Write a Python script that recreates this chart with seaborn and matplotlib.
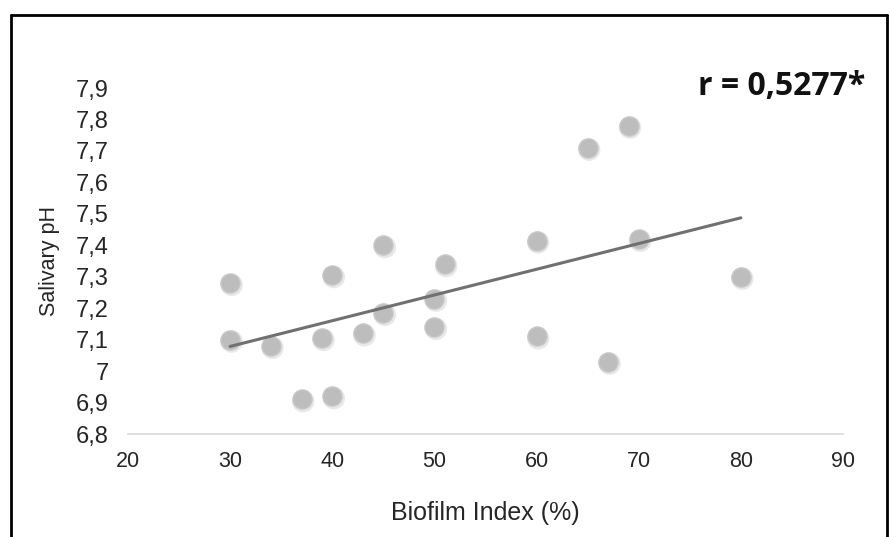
import numpy as np
import pandas as pd
import matplotlib
matplotlib.use("Agg")
import matplotlib.pyplot as plt
from matplotlib.lines import Line2D
import seaborn as sns

biofilm = [30, 30, 34, 37, 40, 40, 39, 43, 45, 45, 50, 50, 51, 60, 60, 65, 67, 69, 70, 80]
ph = [7.28, 7.10, 7.08, 6.91, 6.92, 7.305, 7.105, 7.12, 7.40, 7.185,
      7.23, 7.14, 7.34, 7.415, 7.11, 7.71, 7.03, 7.78, 7.42, 7.30]
x_ticks = [20, 30, 40, 50, 60, 70, 80, 90]
y_ticks = [6.8, 6.9, 7.0, 7.1, 7.2, 7.3, 7.4, 7.5, 7.6, 7.7, 7.8, 7.9]
y_labels = ["6,8", "6,9", "7", "7,1", "7,2", "7,3", "7,4", "7,5", "7,6", "7,7", "7,8", "7,9"]

df = pd.DataFrame({"Biofilm Index (%)": biofilm, "Salivary pH": ph})

sns.set_style("white")
plt.rcParams['font.family'] = ['Liberation Sans', 'DejaVu Sans']

fig = plt.figure(figsize=(8.9, 5.37), dpi=100)
ax = fig.add_axes([128/890, (537-434)/537, (843-128)/890, (434-88)/537])

# soft shadow under points
ax.scatter(np.array(biofilm) + 0.15, np.array(ph) - 0.006, s=260, color="#e8e8e8",
           edgecolor="none", zorder=1)
sns.regplot(data=df, x="Biofilm Index (%)", y="Salivary pH", ax=ax, ci=None, truncate=True,
            scatter_kws=dict(s=190, color="#bdbdbd", edgecolor="#c8c8c8", linewidths=1.0,
                             alpha=1, zorder=2),
            line_kws=dict(color="#707070", lw=2.2, zorder=3))

ax.set_xlim(20, 90)
ax.set_ylim(6.8, 7.9)
ax.set_xticks(x_ticks)
ax.set_xticklabels([str(v) for v in x_ticks])
ax.set_yticks(y_ticks)
ax.set_yticklabels(y_labels)
ax.tick_params(axis="both", length=0, colors="#262626")
ax.tick_params(axis="x", pad=12, labelsize=15.5)
ax.tick_params(axis="y", pad=14, labelsize=17)
for s in ["top", "right", "left"]:
    ax.spines[s].set_visible(False)
ax.spines["bottom"].set_color("#d9d9d9")
ax.spines["bottom"].set_linewidth(1.2)

ax.set_xlabel("Biofilm Index (%)", fontsize=18, color="#262626", labelpad=21)
ax.set_ylabel("Salivary pH", fontsize=15.5, color="#262626", labelpad=11)

fig.text(865/890, (537-86)/537, "r = 0,5277*", ha="right", va="center",
         fontsize=23, fontweight="bold", family=["Open Sans", "DejaVu Sans"], color="#111111")

# outer frame (open at the bottom)
fig.add_artist(Line2D([11/890, 11/890], [0, (537-15)/537], color="black", lw=2))
fig.add_artist(Line2D([11/890, 887/890], [(537-15)/537, (537-15)/537], color="black", lw=2))
fig.add_artist(Line2D([887/890, 887/890], [0, (537-15)/537], color="black", lw=2))

fig.savefig("out.png", dpi=100)
